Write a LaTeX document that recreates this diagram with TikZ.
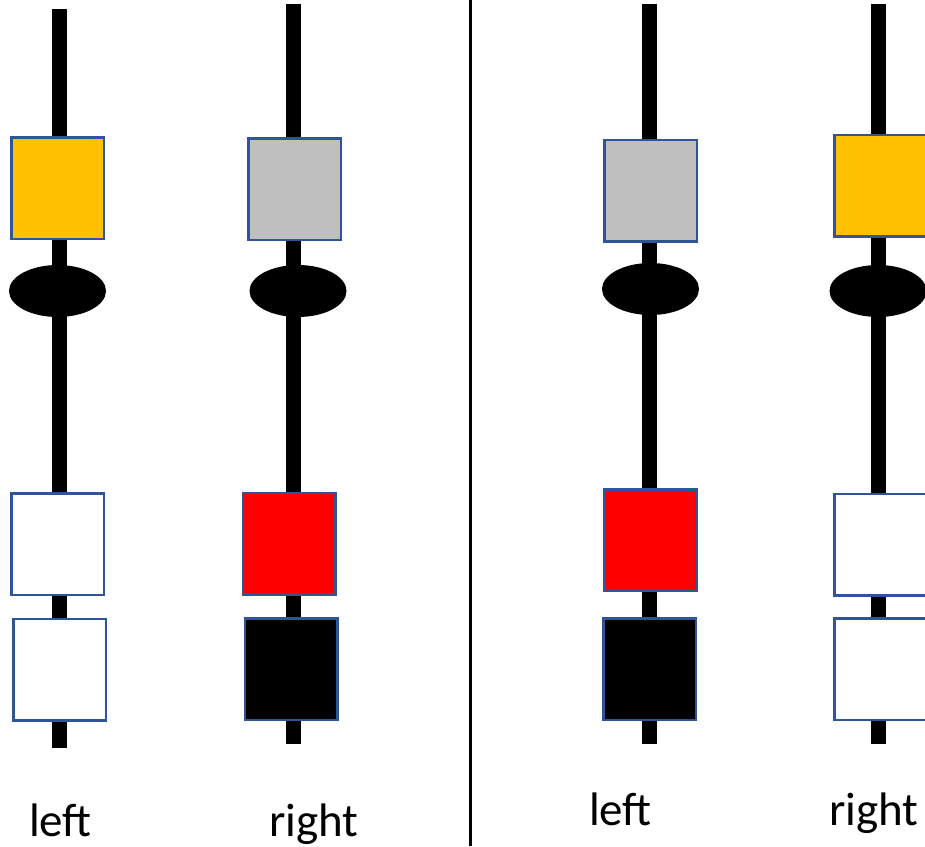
\documentclass[tikz,border=0pt]{standalone}
\usepackage{fontspec}
\setmainfont{Carlito}
\usetikzlibrary{shapes.geometric}
\definecolor{edgeblue}{HTML}{2F5597}
\definecolor{gold}{HTML}{FFC000}
\definecolor{silver}{HTML}{BFBFBF}
\tikzset{
  rod/.style={line width=15pt},
  bead/.style={rectangle, draw=edgeblue, line width=2.5pt, inner sep=0pt, minimum width=92.5pt, minimum height=101.5pt},
  knot/.style={ellipse, fill=black, inner sep=0pt, minimum width=97pt, minimum height=52pt},
  tag/.style={anchor=base, inner sep=0pt, font=\fontsize{47}{56}\selectfont}
}
\begin{document}
\begin{tikzpicture}[x=1pt, y=-1pt]
        \useasboundingbox (0,0) rectangle (925,846);
        \coordinate (T1) at (59.5, 9) {};
        \coordinate (B1) at (59.5, 748) {};
        \coordinate (T2) at (293, 4) {};
        \coordinate (B2) at (293, 744) {};
        \coordinate (T3) at (649.5, 4) {};
        \coordinate (B3) at (649.5, 744) {};
        \coordinate (T4) at (878, 4) {};
        \coordinate (B4) at (878, 744) {};
        \coordinate (S) at (470.5, 0) {};
        \coordinate (E) at (470.5, 846) {};
        \draw[rod] (T1)--(B1);
        \draw[rod] (T2)--(B2);
        \draw[rod] (T3)--(B3);
        \draw[rod] (T4)--(B4);
        \draw[line width=2.5pt] (S)--(E);
        % left panel
        \node[bead, fill=gold] (y1) at (57.5, 188) {};
        \node[knot] (k1) at (57.5, 291) {};
        \node[bead, fill=white] (w1) at (57.5, 544) {};
        \node[bead, fill=white] (w2) at (59.5, 669.5) {};
        \node[bead, fill=silver] (g2) at (294.5, 189) {};
        \node[knot] (k2) at (298, 291) {};
        \node[bead, fill=red] (r2) at (289, 543.5) {};
        \node[bead, fill=black] (b2) at (291, 669) {};
        % right panel
        \node[bead, fill=silver] (g3) at (650.5, 190.5) {};
        \node[knot] (k3) at (650.5, 289) {};
        \node[bead, fill=red] (r3) at (650.5, 540) {};
        \node[bead, fill=black] (b3) at (649.5, 669) {};
        \node[bead, fill=gold] (y4) at (880.5, 185.5) {};
        \node[knot] (k4) at (878, 291) {};
        \node[bead, fill=white] (w3) at (880.5, 544.5) {};
        \node[bead, fill=white] (w4) at (880.5, 669) {};
        % labels
        \node[tag] (l1) at (60.5, 836) {left};
        \node[tag] (r1) at (314, 836) {right};
        \node[tag] (l2) at (620.5, 825) {left};
        \node[tag] (rr2) at (874, 825) {right};
\end{tikzpicture}
\end{document}
